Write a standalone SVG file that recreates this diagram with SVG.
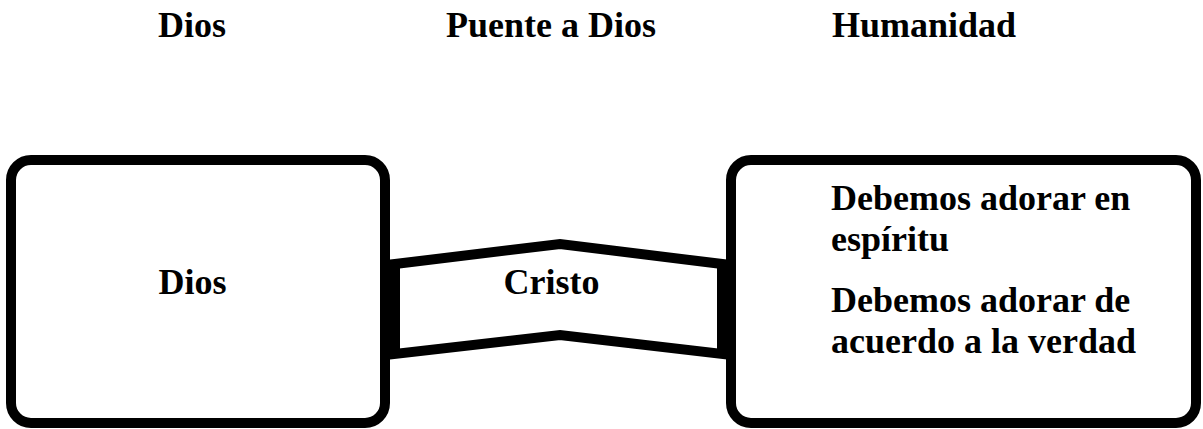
<svg xmlns="http://www.w3.org/2000/svg" width="1203" height="429" viewBox="0 0 1203 429">
<style>
text{font-family:'Liberation Serif','Times New Roman',serif;font-weight:700;font-size:36px;fill:#000}
.box{fill:#fff;stroke:#000;stroke-width:10}
.c{text-anchor:middle}
</style>
<rect width="1203" height="429" fill="#fff"/>
<g id="headers">
<text x="158" y="37">Dios</text>
<text x="446" y="37">Puente a Dios</text>
<text x="832" y="37">Humanidad</text>
</g>
<g id="node-dios">
<rect class="box" x="11" y="160" width="374" height="263" rx="20" ry="20"/>
<text class="c" x="192.5" y="294">Dios</text>
</g>
<g id="node-humanidad">
<rect class="box" x="731" y="160" width="465" height="263" rx="20" ry="20"/>
<text x="831" y="210">Debemos adorar en</text>
<text x="831" y="251">espíritu</text>
<text x="831" y="312">Debemos adorar de</text>
<text x="831" y="353">acuerdo a la verdad</text>
</g>
<g id="connectors">
<g id="node-cristo">
<polygon class="box" points="395,264 560,244 722,264 722,354 560,335 395,354" stroke-linejoin="miter"/>
<text class="c" x="551.5" y="294">Cristo</text>
</g>
</g>
</svg>
